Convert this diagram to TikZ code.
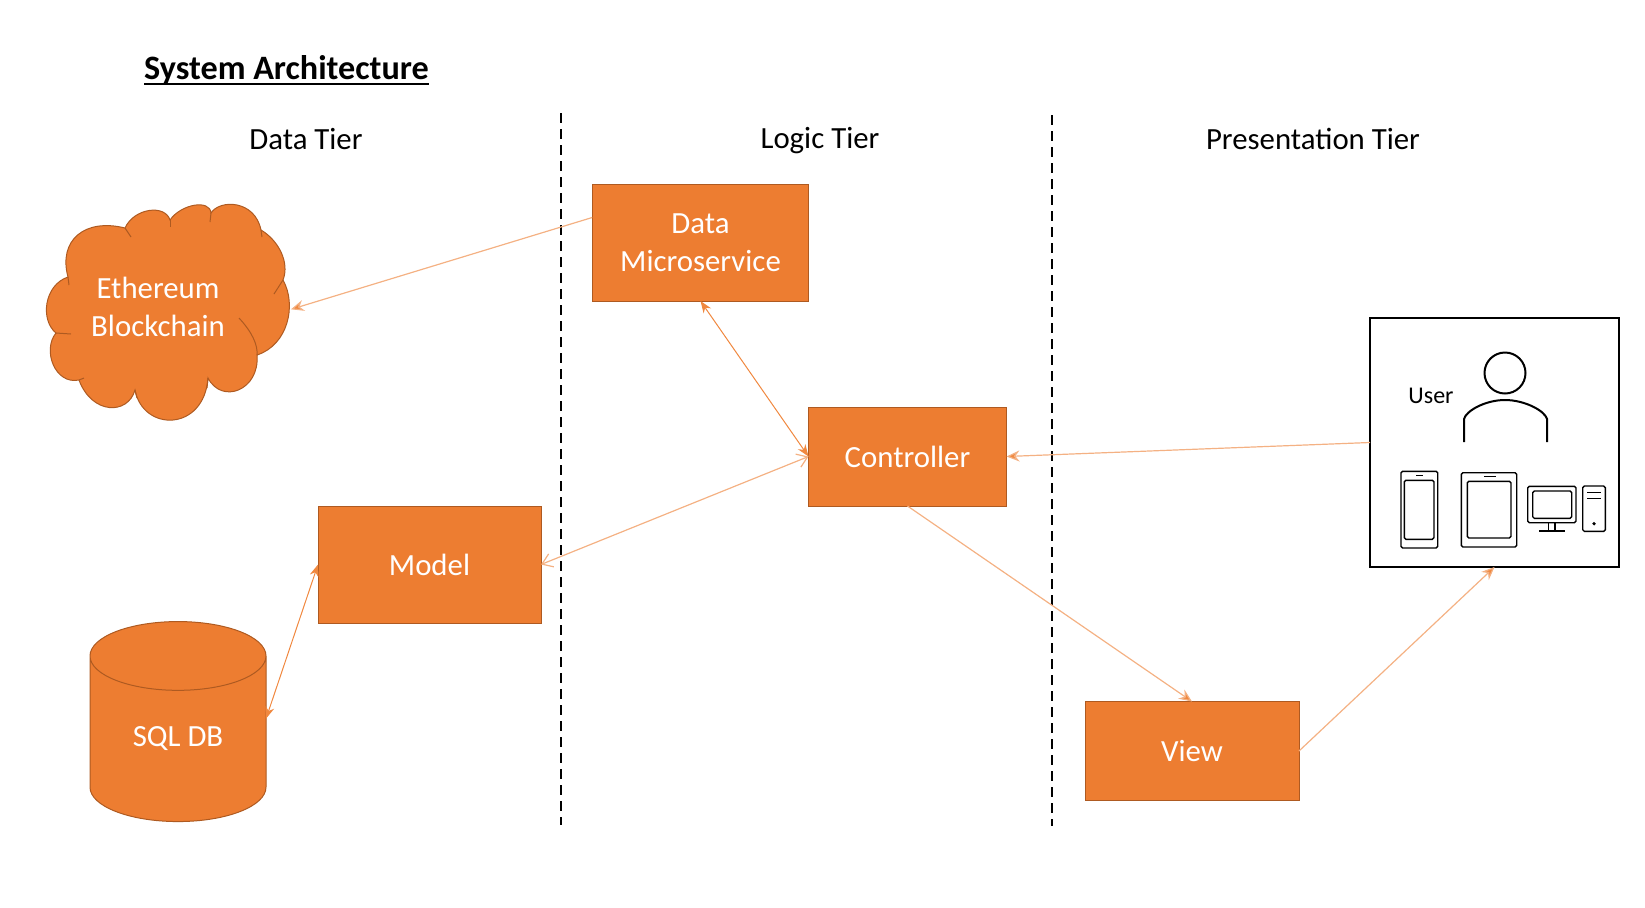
\documentclass[tikz,border=0pt]{standalone}
\usepackage{fontspec}
\setmainfont{Carlito}
\usepackage{xcolor}
\newcommand{\thickunder}[1]{\setbox0=\hbox{#1}\rlap{\rule[-3pt]{\wd0}{0.9pt}}\box0}
\usetikzlibrary{arrows.meta,shapes.geometric}
\definecolor{boxfill}{HTML}{ED7D31}
\definecolor{boxedge}{HTML}{AE5A21}
\definecolor{linkdark}{HTML}{F0883F}
\definecolor{linklight}{HTML}{F4B183}
\tikzset{
	main box/.style = {draw=boxedge, line width=0.5pt, fill=boxfill, text=white, align=center, inner sep=0pt, outer sep=0pt, font=\fontsize{15.4}{19}\selectfont},
	tier label/.style = {anchor=base, font=\fontsize{15.4}{17}\selectfont},
	tier line/.style = {line width=0.7pt, dash pattern=on 5pt off 3pt},
	icon/.style = {line width=0.7pt, rounded corners=0.8pt},
	link/.style = {line width=0.6pt, draw=linklight, -{Stealth[length=6.5pt,width=5.5pt,fill=linkdark]}},
	both link/.style = {line width=0.5pt, draw=linkdark, {Stealth[length=6pt,width=4.5pt]}-{Stealth[length=6pt,width=4.5pt]}},
	open link/.style = {line width=0.6pt, draw=linklight, {Straight Barb[length=5pt,width=7pt]}-{Straight Barb[length=5pt,width=7pt]}},
	cloud edge/.style = {draw=boxedge, line width=0.5pt}
}

\begin{document}
\begin{tikzpicture}[x=0.5pt, y=-0.5pt]
    \useasboundingbox (0,0) rectangle (1645,907);

    % Titles
    \node (title) [anchor=base, font=\fontsize{17.1}{19}\selectfont\bfseries] at (286.5,79) {\thickunder{System Architecture}};
    \node (dataTier) [tier label] at (306,149.5) {Data Tier};
    \node (logicTier) [tier label] at (820,148) {Logic Tier};
    \node (presTier) [tier label] at (1313,149.5) {Presentation Tier};

    % Tier borders
    \coordinate (borderAtop) at (561,113);
    \coordinate (borderAbot) at (561,825);
    \coordinate (borderBtop) at (1052,115);
    \coordinate (borderBbot) at (1052,826);
    \draw [tier line] (borderAtop) to (borderAbot);
    \draw [tier line] (borderBtop) to (borderBbot);

    % Cloud
    \draw [cloud edge, fill=boxfill]
        (68,277) .. controls (58,240) and (85,218) .. (125,228)
        .. controls (134,208) and (165,204) .. (170,220)
        .. controls (181,204) and (210,199) .. (211,213)
        .. controls (220,199) and (255,200) .. (261,230)
        .. controls (278,240) and (290,262) .. (283,280)
        .. controls (297,305) and (288,345) .. (257,355)
        .. controls (260,390) and (222,405) .. (208,378)
        .. controls (204,432) and (143,432) .. (135,390)
        .. controls (128,415) and (92,415) .. (79,380)
        .. controls (55,385) and (42,350) .. (56,333)
        .. controls (40,320) and (44,285) .. (68,277) -- cycle;
    \draw [cloud edge] (239,318) .. controls (252,332) and (258,345) .. (257,355);
    \draw [cloud edge] (125,228) to (131,237);
    \draw [cloud edge] (170,220) to (170,227);
    \draw [cloud edge] (211,213) to (210,222);
    \draw [cloud edge] (261,230) to (262,237);
    \draw [cloud edge] (283,280) to (274,294);
    \draw [cloud edge] (208,378) to (207,388);
    \draw [cloud edge] (135,390) to (137,398);
    \draw [cloud edge] (79,380) to (84,378);
    \draw [cloud edge] (56,333) to (71,334);
    \draw [cloud edge] (68,277) to (69,285);

    % Nodes
    \node (ethereum) [minimum width=133pt, minimum height=60pt, align=center, inner sep=0pt, outer sep=0pt, text=white, font=\fontsize{15.4}{19}\selectfont] at (158,307) {Ethereum\\Blockchain};
    \node (dataMS) [main box, minimum width=108.3pt, minimum height=58.5pt] at (700.5,242.5) {\raisebox{-2pt}{Data}\\\raisebox{-2pt}{Microservice}};
    \node (controller) [main box, minimum width=99pt, minimum height=49.5pt] at (907.5,456.5) {Controller};
    \node (model) [main box, minimum width=111.5pt, minimum height=58.5pt] at (429.5,564.5) {Model};
    \node (view) [main box, minimum width=107pt, minimum height=49.5pt] at (1192,751) {View};
    \node (sqlDB) [main box, shape=cylinder, shape border rotate=90, aspect=0.76, minimum width=88pt, minimum height=100pt] at (178,739) {SQL DB};
    \node (userBox) [draw=black, line width=0.6pt, inner sep=0pt, outer sep=0pt, minimum width=124.5pt, minimum height=124.5pt] at (1494.5,442.5) {};
    \node (userText) [font=\fontsize{12}{14}\selectfont] at (1431,396) {User};

    % User and devices
    \begin{scope}[yshift=-0.5pt]
    \node (userHead) [draw, circle, line width=1pt, minimum size=20.5pt, inner sep=0pt] at (1505,372) {};
    \draw [line width=1pt] (1464,441) -- (1464,418) .. controls (1466,410) and (1485,399) .. (1505,399) .. controls (1525,399) and (1545,410) .. (1547,418) -- (1547,441);
    \draw [icon] (1401,470.3) rectangle (1437.7,547);
    \draw [icon] (1404.3,479.3) rectangle (1434,538.3);
    \draw [icon] (1416,474.7) -- (1423.3,474.7);
    \draw [icon] (1461.3,471.7) rectangle (1516.7,546);
    \draw [icon] (1467.3,480.3) rectangle (1511,537);
    \draw [icon] (1484,475.7) -- (1495.7,475.7);
    \draw [icon] (1527.7,485.3) rectangle (1576,521.7);
    \draw [icon] (1532.7,490) rectangle (1571.7,517.3);
    \draw [icon] (1548.3,521.7) -- (1548.3,530);
    \draw [icon] (1555,521.7) -- (1555,530);
    \draw [icon] (1539.3,530) -- (1564.7,530);
    \draw [icon] (1582.7,485) rectangle (1605.3,530.3);
    \draw [icon] (1587.3,491.7) -- (1600.7,491.7);
    \draw [icon] (1587.3,497.3) -- (1600.7,497.3);
    \fill (1594,522.7) circle (0.9pt);
    \end{scope}

    % Arrows
    \draw [link] (dataMS.167) to (ethereum.-1.5);
    \draw [both link] (dataMS.south) to (controller.west);
    \draw [open link] (controller.west) to (model.east);
    \draw [both link] (model.west) to (sqlDB.13);
    \draw [link] (userBox.west) to (controller.east);
    \draw [link] (controller.south) to (view.north);
    \draw [link] (view.east) to (userBox.south);
\end{tikzpicture}
\end{document}
